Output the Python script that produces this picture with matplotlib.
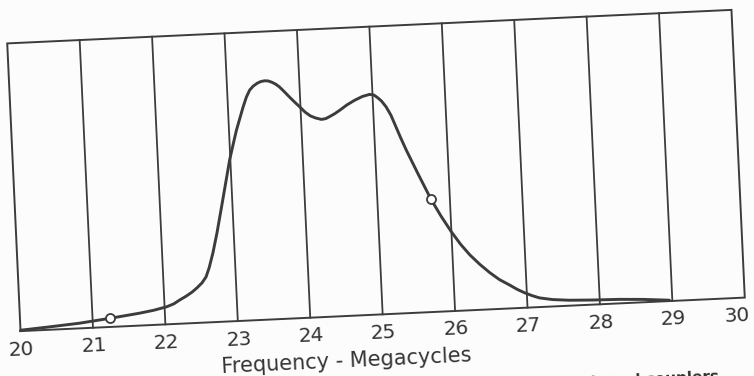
import matplotlib
matplotlib.use("Agg")
import matplotlib.pyplot as plt
from matplotlib.transforms import Affine2D

# ---- data ----
freq = [20.00, 20.40, 20.82, 21.24, 21.65, 21.85, 22.03, 22.13, 22.21, 22.30,
        22.39, 22.46, 22.53, 22.59, 22.64, 22.70, 22.77, 22.85, 22.92, 22.99,
        23.05, 23.10, 23.16, 23.21, 23.26, 23.31, 23.36, 23.42, 23.47, 23.52,
        23.57, 23.62, 23.67, 23.72, 23.78, 23.85, 23.92, 23.99, 24.06, 24.13,
        24.20, 24.28, 24.34, 24.40, 24.47, 24.54, 24.64, 24.75, 24.86, 24.96,
        25.02, 25.07, 25.12, 25.18, 25.24, 25.30, 25.36, 25.43, 25.58, 25.74,
        25.87, 26.00, 26.12, 26.24, 26.37, 26.50, 26.63, 26.77, 26.87, 26.97,
        27.07, 27.17, 27.35, 27.58, 27.90, 28.27, 28.60, 28.96]
response = [0.003, 0.010, 0.018, 0.030, 0.043, 0.051, 0.061, 0.070, 0.082, 0.094,
            0.108, 0.122, 0.138, 0.158, 0.190, 0.240, 0.310, 0.400, 0.480, 0.560,
            0.615, 0.660, 0.705, 0.742, 0.775, 0.799, 0.812, 0.822, 0.827, 0.829,
            0.828, 0.823, 0.816, 0.806, 0.790, 0.770, 0.751, 0.733, 0.714, 0.700,
            0.692, 0.686, 0.688, 0.695, 0.704, 0.715, 0.732, 0.747, 0.759, 0.765,
            0.762, 0.752, 0.740, 0.719, 0.690, 0.650, 0.610, 0.566, 0.480, 0.391,
            0.330, 0.275, 0.230, 0.192, 0.158, 0.128, 0.102, 0.081, 0.065, 0.052,
            0.041, 0.032, 0.024, 0.019, 0.016, 0.014, 0.010, 0.003]
marker_freq = [21.24, 25.74]
marker_resp = [0.030, 0.391]
tick_values = [20, 21, 22, 23, 24, 25, 26, 27, 28, 29, 30]
tick_labels = ["20", "21", "22", "23", "24", "25", "26", "27", "28", "29", "30"]
xlabel = "Frequency - Megacycles"
caption = "Fig. 7 \u2014 Response of amplifier with stagger-tuned couplers"

# ---- figure ----
W, H = 754, 376
ink = "#3c3c3c"
fig = plt.figure(figsize=(W / 100, H / 100), dpi=100)
fig.patch.set_facecolor("#fcfcfc")
ax = fig.add_axes([13.5 / W, 61.5 / H, 725 / W, 288 / H])
ax.set_xlim(20, 30)
ax.set_ylim(0, 1)
ax.axis("off")

angle = 2.65
rot = Affine2D().rotate_deg_around(376, 205.5, angle)
tr = ax.transData + rot

# frame
ax.plot([20, 30, 30, 20, 20], [0, 0, 1, 1, 0], color=ink, lw=1.4,
        transform=tr, clip_on=False, solid_joinstyle="miter")
# vertical grid lines
for t in tick_values[1:-1]:
    ax.plot([t, t], [0, 1], color=ink, lw=1.3, transform=tr, clip_on=False)

# curve
ax.plot(freq, response, color=ink, lw=2.1, transform=tr, clip_on=False,
        solid_capstyle="round", solid_joinstyle="round")
ax.plot(marker_freq, marker_resp, linestyle="none", marker="o", ms=6.5,
        mfc="white", mec=ink, mew=1.3, transform=tr, clip_on=False)

# tick labels
for i, (t, lab) in enumerate(zip(tick_values, tick_labels)):
    shift = -0.12 if i == len(tick_values) - 1 else 0.0
    ax.text(t + shift, -0.064, lab, transform=tr, rotation=angle,
            rotation_mode="anchor", ha="center", va="center", fontsize=14.5,
            color="#333333", family="DejaVu Sans", clip_on=False)

ax.text(24.47, -0.158, xlabel, transform=tr, rotation=angle, rotation_mode="anchor",
        ha="center", va="center", fontsize=15, color="#333333",
        family="DejaVu Sans", clip_on=False)

ax.text(29.60, -0.286, caption, transform=tr, rotation=angle, rotation_mode="anchor",
        ha="right", va="baseline", fontsize=11, fontweight="bold", color="#333333",
        family="DejaVu Sans", clip_on=False)

fig.savefig("out.png", dpi=100, facecolor=fig.get_facecolor())
